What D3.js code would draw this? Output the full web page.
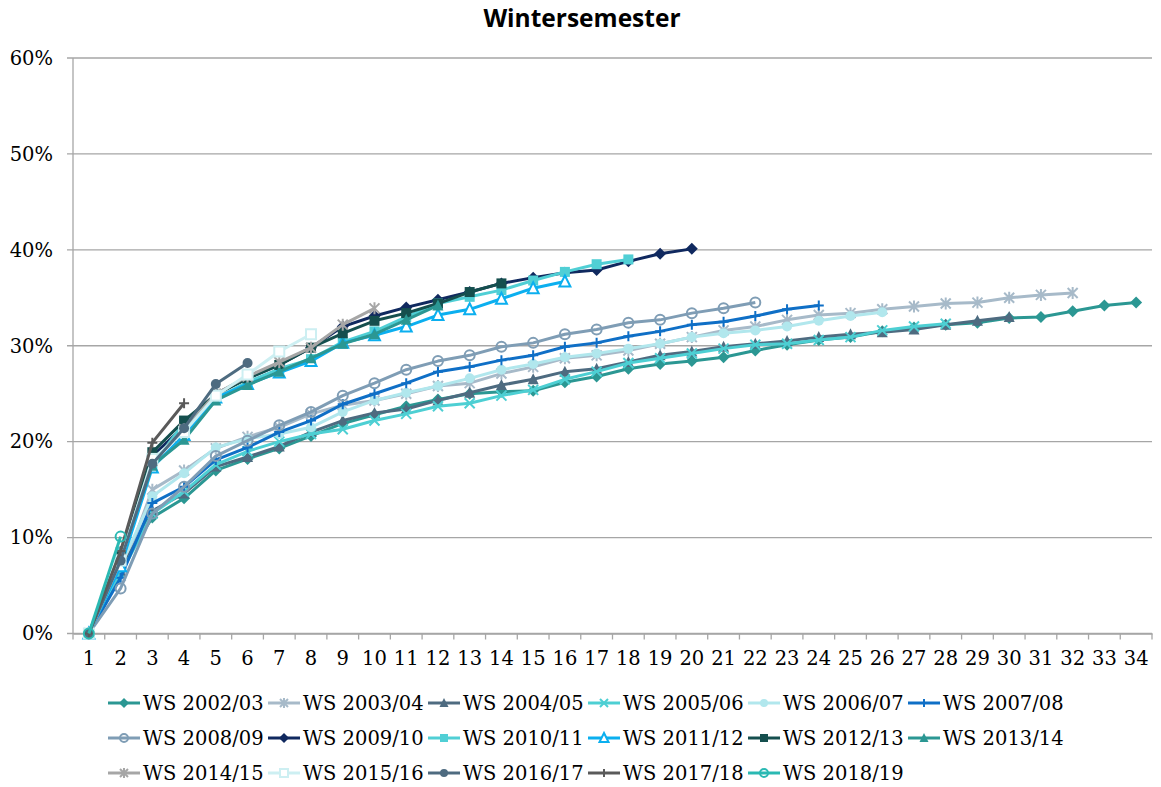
<!DOCTYPE html>
<html lang="en">

<head>
    <meta charset="UTF-8" />
    <title>Wintersemester</title>
    <style>
        body { margin: 0; background: #fff; }
        svg text { fill: #000; }
    </style>
</head>

<body>
    <div id="container"></div>
</body>
<script src="https://cdnjs.cloudflare.com/ajax/libs/d3/7.8.5/d3.min.js"></script>
<script>
    // categories (x axis)
    let categories = d3.range(1, 35);
    let yTicks = [0, 10, 20, 30, 40, 50, 60];

    let semesters = ["WS 2002/03", "WS 2003/04", "WS 2004/05", "WS 2005/06", "WS 2006/07", "WS 2007/08",
        "WS 2008/09", "WS 2009/10", "WS 2010/11", "WS 2011/12", "WS 2012/13", "WS 2013/14",
        "WS 2014/15", "WS 2015/16", "WS 2016/17", "WS 2017/18", "WS 2018/19"];

    // values in %
    let ws0203 = [0, 6.8, 12.1, 14.1, 17.0, 18.2, 19.3, 20.6, 21.9, 22.8, 23.7, 24.4, 25.0, 25.2, 25.3, 26.2, 26.8, 27.6, 28.1, 28.4, 28.8, 29.5, 30.1, 30.6, 30.9, 31.5, 31.9, 32.2, 32.4, 32.9, 33.0, 33.6, 34.2, 34.5];
    let ws0304 = [0, 6.0, 15.0, 17.0, 19.3, 20.5, 21.5, 22.9, 23.8, 24.3, 25.0, 25.8, 26.1, 27.1, 27.8, 28.7, 29.0, 29.5, 30.2, 30.9, 31.6, 32.0, 32.7, 33.2, 33.4, 33.8, 34.1, 34.4, 34.5, 35.0, 35.3, 35.5];
    let ws0405 = [0, 6.5, 12.8, 14.6, 17.4, 18.4, 19.5, 21.0, 22.2, 23.0, 23.4, 24.3, 25.1, 25.9, 26.5, 27.3, 27.6, 28.3, 29.0, 29.4, 29.9, 30.2, 30.5, 30.9, 31.2, 31.4, 31.7, 32.2, 32.6, 33.0];
    let ws0506 = [0, 6.2, 12.5, 14.8, 17.6, 19.0, 20.0, 20.8, 21.3, 22.2, 22.9, 23.7, 24.0, 24.8, 25.4, 26.5, 27.3, 28.2, 28.7, 29.2, 29.7, 30.1, 30.2, 30.6, 30.9, 31.6, 32.0, 32.3];
    let ws0607 = [0, 7.0, 14.3, 16.7, 19.4, 20.3, 20.8, 21.5, 23.1, 24.3, 25.1, 25.8, 26.6, 27.5, 28.1, 28.8, 29.2, 29.7, 30.2, 30.9, 31.3, 31.6, 32.0, 32.6, 33.1, 33.5];
    let ws0708 = [0, 5.8, 13.6, 15.3, 18.1, 19.4, 21.0, 22.2, 23.9, 25.0, 26.1, 27.3, 27.8, 28.5, 29.0, 29.9, 30.3, 31.0, 31.5, 32.2, 32.5, 33.1, 33.8, 34.2];
    let ws0809 = [0, 4.7, 12.5, 15.3, 18.5, 20.1, 21.7, 23.1, 24.8, 26.1, 27.5, 28.4, 29.0, 29.9, 30.3, 31.2, 31.7, 32.4, 32.7, 33.4, 33.9, 34.5];
    let ws0910 = [0, 7.5, 18.5, 21.6, 25.0, 26.6, 28.0, 29.8, 32.0, 33.1, 34.0, 34.8, 35.6, 36.5, 37.1, 37.6, 37.9, 38.8, 39.6, 40.1];
    let ws1011 = [0, 8.5, 17.5, 22.0, 24.5, 26.2, 27.6, 28.6, 30.4, 31.5, 33.0, 34.4, 35.1, 35.8, 36.8, 37.7, 38.5, 39.0];
    let ws1112 = [0, 7.0, 17.3, 20.7, 24.6, 26.0, 27.2, 28.4, 30.3, 31.1, 32.0, 33.2, 33.8, 34.9, 36.0, 36.7];
    let ws1213 = [0, 8.0, 18.9, 22.2, 24.9, 26.6, 28.0, 29.8, 31.3, 32.6, 33.4, 34.4, 35.6, 36.5];
    let ws1314 = [0, 8.0, 17.5, 20.2, 24.3, 25.9, 27.3, 28.7, 30.2, 31.2, 32.7, 34.2];
    let ws1415 = [0, 7.8, 18.0, 21.3, 25.0, 26.8, 28.3, 29.8, 32.2, 33.9];
    let ws1516 = [0, 7.6, 18.2, 21.0, 24.8, 27.0, 29.4, 31.2];
    let ws1617 = [0, 7.6, 17.7, 21.4, 26.0, 28.2];
    let ws1718 = [0, 8.6, 19.9, 24.0];
    let ws1819 = [0, 10.1];

    let seriesValues = [ws0203, ws0304, ws0405, ws0506, ws0607, ws0708, ws0809, ws0910, ws1011,
        ws1112, ws1213, ws1314, ws1415, ws1516, ws1617, ws1718, ws1819];

    let colors = ["#2b9793", "#a7bac9", "#4e6b80", "#4dcfd3", "#b1e7ed", "#0f6fc6", "#7f9db5", "#10295f",
        "#50cfd5", "#0bafef", "#154f4e", "#2b9793", "#a6a6a6", "#cdeff2", "#4e6b80", "#5a5a5a", "#2ab9b3"];
    let markers = ["diamond", "asterisk", "triangle", "x", "circle", "plus", "ocircle", "diamond",
        "square", "otriangle", "square", "triangle", "asterisk", "osquare", "circle", "plus", "ocircle"];

    let svgW = 1161, svgH = 787;
    let mLeft = 73, mRight = 1152, mTop = 58, mBottom = 633.5;

    let svg = d3.select("#container").append("svg").attr("width", svgW).attr("height", svgH);

    let x = d3.scaleBand().domain(categories).range([mLeft, mRight]).padding(0);
    let y = d3.scaleLinear().domain([0, 60]).range([mBottom, mTop]);
    let cx = (c) => x(c) + x.bandwidth() / 2;

    // title
    svg.append("text").attr("x", 582).attr("y", 27).attr("text-anchor", "middle")
        .style("font-family", "'Open Sans', sans-serif").style("font-weight", "bold").style("font-size", "24.5px")
        .text("Wintersemester");

    // gridlines
    svg.append("g").selectAll("line").data(yTicks).enter().append("line")
        .attr("x1", mLeft - 6).attr("x2", mRight)
        .attr("y1", (d) => y(d)).attr("y2", (d) => y(d))
        .attr("stroke", "#a6a6a6").attr("stroke-width", 1.3);

    // y axis labels
    let yAxis = svg.append("g").attr("transform", `translate(${mLeft},0)`)
        .call(d3.axisLeft(y).tickValues(yTicks).tickFormat((d) => d + "%").tickSize(0).tickPadding(20));
    yAxis.select(".domain").remove();
    yAxis.selectAll("text").style("font-family", "'DejaVu Serif', serif").style("font-size", "19.5px").attr("fill", "#000");

    svg.append("line").attr("x1", mLeft).attr("x2", mLeft).attr("y1", mTop).attr("y2", mBottom)
        .attr("stroke", "#a6a6a6").attr("stroke-width", 1.3);

    // x axis
    let xAxis = svg.append("g").attr("transform", `translate(0,${mBottom})`)
        .call(d3.axisBottom(x).tickSize(0).tickPadding(18));
    xAxis.select(".domain").attr("stroke", "#a6a6a6").attr("stroke-width", 1.3);
    xAxis.selectAll("text").style("font-family", "'DejaVu Serif', serif").style("font-size", "19.5px").attr("fill", "#000");
    svg.append("g").selectAll("line").data(categories.concat([null])).enter().append("line")
        .attr("x1", (d) => d === null ? mRight : x(d)).attr("x2", (d) => d === null ? mRight : x(d))
        .attr("y1", mBottom).attr("y2", mBottom + 6)
        .attr("stroke", "#a6a6a6").attr("stroke-width", 1.3);

    function drawMarker(g, type, color, s) {
        let h = s / 2;
        if (type === "diamond") {
            g.append("path").attr("d", `M0,${-h - 1}L${h + 1},0L0,${h + 1}L${-h - 1},0Z`).attr("fill", color);
        } else if (type === "triangle" || type === "otriangle") {
            let p = g.append("path").attr("d", `M0,${-h - 1}L${h + 0.5},${h}L${-h - 0.5},${h}Z`);
            if (type === "triangle") p.attr("fill", color);
            else p.attr("fill", "#fff").attr("stroke", color).attr("stroke-width", 2);
        } else if (type === "square") {
            g.append("rect").attr("x", -h).attr("y", -h).attr("width", s).attr("height", s).attr("fill", color);
        } else if (type === "osquare") {
            g.append("rect").attr("x", -h).attr("y", -h).attr("width", s).attr("height", s)
                .attr("fill", "#fff").attr("stroke", color).attr("stroke-width", 2);
        } else if (type === "circle") {
            g.append("circle").attr("r", h).attr("fill", color);
        } else if (type === "ocircle") {
            g.append("circle").attr("r", h).attr("fill", "none").attr("stroke", color).attr("stroke-width", 2);
        } else {
            let d = "";
            if (type === "x" || type === "asterisk") d += `M${-h},${-h}L${h},${h}M${-h},${h}L${h},${-h}`;
            if (type === "plus") d += `M${-h},0L${h},0M0,${-h}L0,${h}`;
            if (type === "asterisk") d += `M0,${-h - 1}L0,${h + 1}`;
            g.append("path").attr("d", d).attr("stroke", color).attr("stroke-width", 2).attr("fill", "none");
        }
    }

    let line = d3.line().x((d, i) => cx(categories[i])).y((d) => y(d));

    // series
    seriesValues.forEach(function (vals, k) {
        let g = svg.append("g");
        g.append("path").datum(vals).attr("d", line)
            .attr("fill", "none").attr("stroke", colors[k]).attr("stroke-width", 3).attr("stroke-linejoin", "round");
        vals.forEach(function (v, i) {
            let mg = g.append("g").attr("transform", `translate(${cx(categories[i])},${y(v)})`);
            drawMarker(mg, markers[k], colors[k], 10);
        });
    });

    // legend
    let legend = svg.append("g");
    semesters.forEach(function (name, k) {
        let col = k % 6, row = Math.floor(k / 6);
        let lx = 108 + col * 160, ly = 703 + row * 35;
        let g = legend.append("g").attr("transform", `translate(${lx},${ly})`);
        g.append("line").attr("x1", 0).attr("x2", 32).attr("stroke", colors[k]).attr("stroke-width", 3);
        let mg = g.append("g").attr("transform", "translate(16,0)");
        drawMarker(mg, markers[k], colors[k], 8);
        g.append("text").attr("x", 35).attr("dy", "0.35em")
            .style("font-family", "'DejaVu Serif', serif").style("font-size", "19.5px")
            .text(name);
    });
</script>

</html>
